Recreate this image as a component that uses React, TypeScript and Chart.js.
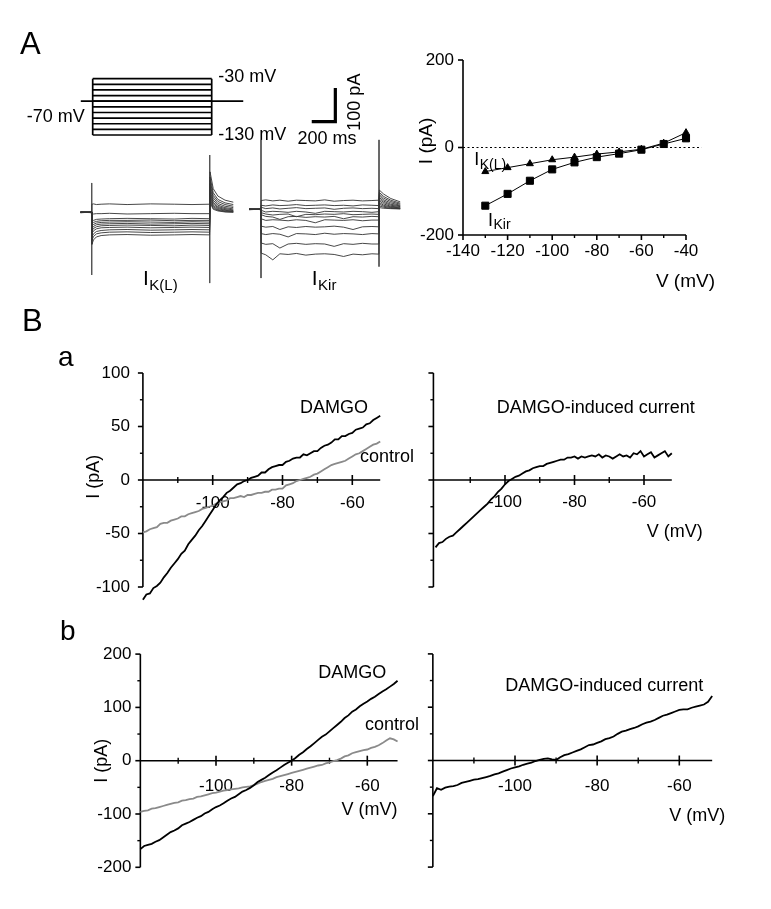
import React, { useEffect, useRef } from "react";
import { Chart, registerables } from "chart.js";
Chart.register(...registerables);

const W = 771;
const H = 909;
const FONT = '"Liberation Sans", Arial, Helvetica, sans-serif';

// ---------------- Panel A: voltage protocol ----------------
const STEP_LEVELS_MV = [-30, -40, -50, -60, -70, -80, -90, -100, -110, -120, -130];
const HOLD_MV = -70;
const STEP_MS = [0, 1000];
const HOLD_MS = [-100, 1265];

// ---------------- Panel A: current traces ----------------
const KL_TIMES = [-95, -1, 2, 15, 40, 80, 150, 300, 500, 700, 850, 999, 1003, 1030, 1070, 1130, 1200];
const KL_TRACES = [
  [1, -1, 24, 25, 23, 24, 25, 23, 25, 24, 23, 24, 120, 70, 48, 36, 30],
  [0, 1, -5, -5, -4, -4, -3, -5, -4, -3, -4, -4, 105, 58, 38, 28, 23],
  [-1, 0, -27, -24, -21, -20, -19, -18, -19, -20, -18, -19, 95, 50, 32, 23, 18],
  [1, 0, -34, -30, -27, -25, -24, -24, -23, -25, -24, -24, 85, 43, 26, 18, 14],
  [0, -1, -41, -36, -32, -30, -29, -28, -29, -30, -28, -29, 75, 36, 21, 14, 10],
  [2, 1, -48, -42, -37, -35, -34, -33, -35, -34, -33, -34, 65, 30, 17, 11, 7],
  [-1, 1, -55, -48, -43, -40, -39, -38, -39, -40, -38, -39, 58, 25, 14, 8, 5],
  [0, 0, -63, -55, -49, -46, -45, -44, -46, -45, -44, -45, 50, 20, 11, 6, 3],
  [1, -1, -73, -64, -57, -54, -52, -51, -53, -52, -51, -52, 42, 16, 8, 4, 2],
  [-1, 0, -83, -72, -64, -61, -59, -58, -60, -59, -58, -59, 35, 12, 6, 2, 1],
  [0, 1, -95, -82, -73, -69, -67, -66, -68, -67, -66, -67, 28, 9, 4, 1, 0],
];
const KL_ARTIFACT_ON_PA = [87, -186];
const KL_ARTIFACT_OFF_PA = [170, -210];

const KIR_TIMES = [-100, -1, 1, 40, 100, 160, 230, 300, 380, 460, 540, 620, 700, 780, 860, 940, 999, 1003, 1040, 1100, 1180];
const KIR_TRACES = [
  [1, 0, 26, 28, 25, 27, 24, 27, 26, 25, 28, 24, 26, 27, 25, 26, 27, 57, 45, 32, 22],
  [0, 1, 12, 10, 13, 11, 12, 14, 11, 12, 13, 11, 12, 10, 13, 12, 11, 50, 38, 27, 18],
  [-1, 0, 6, 2, 4, 1, 3, 5, 2, 3, 4, 0, 3, 4, 2, 3, 2, 45, 33, 23, 15],
  [1, -1, -3, -8, -6, -7, -9, -6, -8, -12, -6, -7, -8, -6, -7, -9, -7, 40, 28, 19, 12],
  [0, 1, -10, -14, -17, -15, -14, -22, -15, -16, -14, -15, -13, -16, -15, -14, -15, 35, 24, 15, 10],
  [2, 0, -16, -21, -23, -30, -22, -21, -24, -22, -23, -21, -28, -22, -23, -21, -22, 30, 20, 12, 8],
  [-1, 1, -28, -33, -31, -32, -34, -31, -33, -40, -31, -32, -33, -31, -34, -32, -32, 25, 16, 9, 6],
  [0, 0, -50, -53, -51, -60, -52, -54, -51, -53, -52, -50, -53, -60, -52, -51, -52, 20, 12, 7, 4],
  [1, -1, -72, -75, -72, -74, -82, -72, -73, -75, -71, -74, -72, -73, -75, -72, -73, 15, 9, 5, 3],
  [-1, 0, -100, -104, -102, -115, -103, -101, -104, -102, -103, -110, -102, -104, -101, -103, -103, 10, 6, 3, 2],
  [0, 1, -130, -135, -150, -132, -134, -131, -136, -133, -132, -134, -140, -133, -135, -132, -133, 5, 3, 2, 1],
];
const KIR_ARTIFACT_ON_PA = [206, -204];
const KIR_ARTIFACT_OFF_PA = [206, -170];
const SCALE_BAR_MS = [430, 630, 630];
const SCALE_BAR_PA = [260, 260, 360];

// ---------------- Panel A: I-V ----------------
const IV_V = [-130, -120, -110, -100, -90, -80, -70, -60, -50, -40];
const IV_KL = [-55, -46, -37, -28, -22, -15, -10, -4, 10, 34];
const IV_KIR = [-133, -106, -76, -50, -34, -22, -14, -5, 8, 21];
const IV_ZERO_V = [-140, -33];
const IV_X_MAJOR = [-140, -120, -100, -80, -60, -40];
const IV_X_MINOR = [-130, -110, -90, -70, -50];
const IV_Y_MAJOR = [200, 0, -200];

// ---------------- Panel B: ramps (1 mV steps from -120 to -52) ----------------
const SWEEP_START_MV = -120;
const SWEEP_STEP_MV = 1;
const A_DAMGO = [
  -112, -107, -106, -101, -99, -96, -91, -87, -82, -78,
  -74, -69, -66, -60, -56, -52, -47, -43, -38, -33,
  -28, -23, -19, -16, -12, -10, -7, -4, -3, -1,
  0, 2, 3, 4, 7, 7, 10, 12, 13, 14,
  14, 17, 18, 20, 21, 21, 24, 23, 25, 27,
  27, 30, 32, 33, 35, 38, 38, 41, 41, 43,
  44, 47, 48, 49, 52, 53, 56, 58, 60,
];
const A_CONTROL = [
  -49, -48, -46, -45, -44, -41, -40, -40, -38, -37,
  -36, -34, -34, -32, -31, -30, -29, -27, -26, -25,
  -24, -22, -21, -20, -19, -17, -17, -16, -15, -16,
  -14, -14, -13, -12, -12, -11, -11, -9, -9, -8,
  -8, -5, -4, -3, -1, 0, 1, 2, 3, 5,
  6, 8, 10, 12, 14, 15, 16, 17, 18, 20,
  22, 24, 25, 27, 29, 31, 33, 34, 36,
];
const A_INDUCED = [
  -63, -59, -58, -55, -53, -52, -49, -46, -43, -40,
  -37, -34, -31, -28, -25, -22, -18, -15, -11, -8,
  -4, -1, 1, 3, 4, 6, 8, 9, 11, 12,
  13, 13, 15, 16, 17, 18, 19, 19, 21, 21,
  22, 20, 22, 21, 22, 23, 22, 24, 21, 23,
  22, 20, 22, 24, 22, 23, 21, 25, 24, 27,
  22, 24, 26, 21, 23, 25, 27, 22, 25,
];
const B_DAMGO = [
  -166, -160, -158, -156, -152, -149, -144, -139, -134, -131,
  -127, -121, -118, -115, -111, -107, -104, -99, -96, -91,
  -87, -84, -80, -75, -71, -68, -63, -58, -55, -51,
  -46, -40, -36, -32, -27, -22, -18, -13, -8, -4,
  0, 5, 11, 16, 22, 27, 33, 39, 45, 49,
  55, 61, 67, 73, 80, 85, 92, 96, 102, 107,
  111, 116, 120, 125, 130, 134, 139, 144, 150,
];
const B_CONTROL = [
  -96, -94, -93, -90, -89, -87, -85, -83, -81, -79,
  -78, -75, -74, -72, -71, -68, -67, -65, -63, -61,
  -60, -58, -56, -55, -54, -53, -52, -50, -49, -48,
  -46, -43, -40, -38, -36, -34, -31, -29, -27, -25,
  -23, -21, -19, -17, -15, -13, -11, -9, -8, -5,
  -3, -1, 1, 4, 8, 10, 14, 16, 18, 20,
  21, 24, 26, 29, 33, 38, 42, 40, 36,
];
const B_INDUCED = [
  -67, -52, -55, -51, -49, -48, -46, -42, -40, -38,
  -36, -35, -33, -31, -29, -26, -24, -21, -18, -15,
  -13, -11, -8, -6, -4, -1, 1, 3, 4, 2,
  1, 6, 10, 12, 15, 18, 21, 25, 29, 30,
  33, 36, 40, 42, 45, 50, 54, 56, 59, 61,
  64, 68, 71, 73, 76, 80, 84, 86, 89, 92,
  95, 96, 96, 99, 101, 103, 105, 110, 121,
];
const B_X_MAJOR = [-100, -80, -60];
const B_X_MINOR = [-110, -90, -70];
const B_X_END = -52;
const A_Y_MAJOR = [100, 50, 0, -50, -100];
const A_Y_MINOR = [75, 25, -25, -75];
const B_Y_MAJOR = [200, 100, 0, -100, -200];
const B_Y_MINOR = [150, 50, -50, -150];

// ---------------- helpers ----------------
type Pt = { x: number; y: number };
const pairs = (xs: number[], ys: number[]): Pt[] => xs.map((x, i) => ({ x, y: ys[i] }));
const sweep = (ys: number[]): Pt[] => ys.map((y, i) => ({ x: SWEEP_START_MV + i * SWEEP_STEP_MV, y }));
const ds = (data: Pt[], color = "#000", width = 1.6, extra: any = {}) => ({
  data,
  showLine: true,
  borderColor: color,
  backgroundColor: color,
  borderWidth: width,
  pointRadius: 0,
  pointHoverRadius: 0,
  fill: false,
  tension: 0,
  clip: false,
  ...extra,
});

function text(
  ctx: CanvasRenderingContext2D,
  s: string,
  x: number,
  y: number,
  size: number,
  align: CanvasTextAlign = "left",
  baseline: CanvasTextBaseline = "middle",
  rot = 0
) {
  ctx.save();
  ctx.font = `${size}px ${FONT}`;
  ctx.fillStyle = "#000";
  ctx.textAlign = align;
  ctx.textBaseline = baseline;
  ctx.translate(x, y);
  if (rot) ctx.rotate(rot);
  ctx.fillText(s, 0, 0);
  ctx.restore();
}
function seg(ctx: CanvasRenderingContext2D, x1: number, y1: number, x2: number, y2: number, w = 1.6) {
  ctx.save();
  ctx.beginPath();
  ctx.lineWidth = w;
  ctx.strokeStyle = "#000";
  ctx.moveTo(x1, y1);
  ctx.lineTo(x2, y2);
  ctx.stroke();
  ctx.restore();
}
function subText(
  ctx: CanvasRenderingContext2D,
  main: string,
  sub: string,
  x: number,
  y: number,
  size: number,
  subSize: number,
  subDy: number
) {
  ctx.save();
  ctx.font = `${size}px ${FONT}`;
  const w = ctx.measureText(main).width;
  ctx.restore();
  text(ctx, main, x, y, size, "left", "alphabetic");
  text(ctx, sub, x + w + 0.5, y + subDy, subSize, "left", "alphabetic");
}

type Fx = (v: number) => number;
type Spec = {
  xMin: number; xMax: number; yMin: number; yMax: number;
  xRef: number; xRefPx: number; xPer: number;
  yRef: number; yRefPx: number; yPer: number;
  datasets: any[];
  before?: (ctx: CanvasRenderingContext2D, X: Fx, Y: Fx) => void;
  after?: (ctx: CanvasRenderingContext2D, X: Fx, Y: Fx) => void;
};

function Layer({ spec }: { spec: Spec }) {
  const ref = useRef<HTMLCanvasElement>(null);
  useEffect(() => {
    const canvas = ref.current!;
    const left = spec.xRefPx + (spec.xMin - spec.xRef) * spec.xPer;
    const right = spec.xRefPx + (spec.xMax - spec.xRef) * spec.xPer;
    const top = spec.yRefPx - (spec.yMax - spec.yRef) * spec.yPer;
    const bottom = spec.yRefPx - (spec.yMin - spec.yRef) * spec.yPer;
    const hook = (which: "before" | "after") => (c: any) => {
      const fn = spec[which];
      if (!fn) return;
      const X = (v: number) => c.scales.x.getPixelForValue(v);
      const Y = (v: number) => c.scales.y.getPixelForValue(v);
      c.ctx.save();
      fn(c.ctx, X, Y);
      c.ctx.restore();
    };
    const chart = new Chart(canvas, {
      type: "scatter",
      data: { datasets: spec.datasets },
      options: {
        responsive: false,
        maintainAspectRatio: false,
        animation: false,
        devicePixelRatio: 1,
        events: [],
        layout: { padding: { left, top, right: W - right, bottom: H - bottom } },
        scales: {
          x: { type: "linear", min: spec.xMin, max: spec.xMax, display: false },
          y: { type: "linear", min: spec.yMin, max: spec.yMax, display: false },
        },
        plugins: { legend: { display: false }, tooltip: { enabled: false }, title: { display: false } },
      },
      plugins: [
        { id: "figBefore", beforeDatasetsDraw: hook("before") },
        { id: "figAfter", afterDatasetsDraw: hook("after") },
      ],
    } as any);
    return () => chart.destroy();
  }, []);
  return (
    <canvas
      ref={ref}
      width={W}
      height={H}
      style={{ position: "absolute", left: 0, top: 0, width: W, height: H }}
    />
  );
}

// ---------------- B panel axes ----------------
function bAxes(
  ctx: CanvasRenderingContext2D, X: Fx, Y: Fx,
  axisV: number, yMajor: number[], yMinor: number[], yLabelGap: number | null, xLabelDy: number
) {
  const ax = X(axisV);
  const y0 = Y(0);
  seg(ctx, ax, Y(yMajor[0]), ax, Y(yMajor[yMajor.length - 1]), 1.6);
  yMajor.forEach((v) => seg(ctx, ax - 5, Y(v), ax, Y(v), 1.6));
  yMinor.forEach((v) => seg(ctx, ax - 3, Y(v), ax, Y(v), 1.4));
  if (yLabelGap !== null) yMajor.forEach((v) => text(ctx, String(v), ax - yLabelGap, Y(v), 17, "right"));
  seg(ctx, ax, y0, X(B_X_END), y0, 1.6);
  B_X_MAJOR.forEach((v) => seg(ctx, X(v), y0 - 5, X(v), y0 + 5, 1.6));
  B_X_MINOR.forEach((v) => seg(ctx, X(v), y0 - 3, X(v), y0 + 3, 1.4));
  B_X_MAJOR.forEach((v) => text(ctx, String(v), X(v), y0 + xLabelDy, 17, "center"));
}

const GRAY = "#8a8a8a";
const TRACE = "#333";

const specs: Spec[] = [
  // protocol
  {
    xMin: -150, xMax: 1300, yMin: -135, yMax: -25,
    xRef: 0, xRefPx: 92.7, xPer: 0.119, yRef: -30, yRefPx: 78.7, yPer: 0.563,
    datasets: [
      ...STEP_LEVELS_MV.map((l) => ds(pairs(STEP_MS, [l, l]), "#000", 1.7)),
      ds(pairs([STEP_MS[0], STEP_MS[0]], [STEP_LEVELS_MV[0], STEP_LEVELS_MV[10]]), "#000", 1.7),
      ds(pairs([STEP_MS[1], STEP_MS[1]], [STEP_LEVELS_MV[0], STEP_LEVELS_MV[10]]), "#000", 1.7),
      ds(pairs(HOLD_MS, [HOLD_MV, HOLD_MV]), "#000", 1.7),
    ],
    after: (ctx, X, Y) => {
      text(ctx, "-30 mV", X(1000) + 6.5, Y(-30) - 2, 18);
      text(ctx, "-130 mV", X(1000) + 6.5, Y(-130), 18);
      text(ctx, "-70 mV", X(-100) + 4, Y(-70) + 16, 18, "right");
      text(ctx, "A", 20, 53.5, 31, "left", "alphabetic");
    },
  },
  // IK(L) traces
  {
    xMin: -150, xMax: 1300, yMin: -230, yMax: 200,
    xRef: 0, xRefPx: 91.7, xPer: 0.118, yRef: 0, yRefPx: 212.3, yPer: 0.337,
    datasets: [
      ...KL_TRACES.map((t) => ds(pairs(KL_TIMES, t), TRACE, 0.9)),
      ds(pairs([0, 0], KL_ARTIFACT_ON_PA), "#555", 1),
      ds(pairs([1000, 1000], KL_ARTIFACT_OFF_PA), "#555", 1),
    ],
    after: (ctx, X, Y) => {
      subText(ctx, "I", "K(L)", X(435), Y(-215), 21, 15, 5);
    },
  },
  // IKir traces + scale bar
  {
    xMin: -150, xMax: 1300, yMin: -230, yMax: 380,
    xRef: 0, xRefPx: 261, xPer: 0.118, yRef: 0, yRefPx: 209.3, yPer: 0.337,
    datasets: [
      ...KIR_TRACES.map((t) => ds(pairs(KIR_TIMES, t), TRACE, 0.9)),
      ds(pairs([0, 0], KIR_ARTIFACT_ON_PA), "#555", 1),
      ds(pairs([1000, 1000], KIR_ARTIFACT_OFF_PA), "#555", 1),
      ds(pairs(SCALE_BAR_MS, SCALE_BAR_PA), "#000", 3.2, { borderJoinStyle: "miter", borderCapStyle: "butt" }),
    ],
    after: (ctx, X, Y) => {
      text(ctx, "100 pA", X(630) + 20, Y(318), 18, "center", "middle", -Math.PI / 2);
      text(ctx, "200 ms", X(560), Y(260) + 17, 18, "center");
      subText(ctx, "I", "Kir", X(430), Y(-225), 21, 15, 5);
    },
  },
  // A I-V
  {
    xMin: -146, xMax: -32, yMin: -210, yMax: 210,
    xRef: -140, xRefPx: 463, xPer: 2.23, yRef: 0, yRefPx: 147.5, yPer: 0.4375,
    datasets: [
      ds(pairs(IV_V, IV_KL), "#000", 1, {
        pointStyle: "triangle", pointRadius: 4, pointBackgroundColor: "#000", pointBorderColor: "#000", pointBorderWidth: 1,
      }),
      ds(pairs(IV_V, IV_KIR), "#000", 1, {
        pointStyle: "rect", pointRadius: 5, pointBackgroundColor: "#000", pointBorderColor: "#000", pointBorderWidth: 1,
      }),
      ds(pairs(IV_ZERO_V, [0, 0]), "#000", 1.2, { borderDash: [2, 2.5] }),
    ],
    before: (ctx, X, Y) => {
      const ax = X(-140);
      const ay = Y(-200);
      seg(ctx, ax, Y(200), ax, ay, 1.6);
      seg(ctx, ax, ay, X(-40), ay, 1.6);
      IV_Y_MAJOR.forEach((v) => {
        seg(ctx, ax - 5, Y(v), ax, Y(v), 1.6);
        text(ctx, String(v), ax - 9, Y(v), 17, "right");
      });
      IV_X_MAJOR.forEach((v) => {
        seg(ctx, X(v), ay, X(v), ay + 5, 1.6);
        text(ctx, String(v), X(v), ay + 16, 17, "center");
      });
      IV_X_MINOR.forEach((v) => seg(ctx, X(v), ay, X(v), ay + 3, 1.4));
      text(ctx, "I (pA)", ax - 36, Y(15), 19, "center", "middle", -Math.PI / 2);
      text(ctx, "V (mV)", X(-40) + 29, ay + 47, 19, "right");
      subText(ctx, "I", "K(L)", X(-135), Y(-40), 18, 14, 4);
      subText(ctx, "I", "Kir", X(-128.8), Y(-180), 18, 14, 3);
    },
  },
  // B a left
  {
    xMin: -121, xMax: -51, yMin: -118, yMax: 106,
    xRef: -100, xRefPx: 212.7, xPer: 3.49, yRef: 0, yRefPx: 480, yPer: 1.07,
    datasets: [ds(sweep(A_DAMGO), "#000", 1.8), ds(sweep(A_CONTROL), GRAY, 1.8)],
    before: (ctx, X, Y) => {
      bAxes(ctx, X, Y, -120, A_Y_MAJOR, A_Y_MINOR, 13, 23);
      text(ctx, "I (pA)", X(-120) - 49, Y(3), 18, "center", "middle", -Math.PI / 2);
      text(ctx, "DAMGO", X(-75), Y(67), 18);
      text(ctx, "control", X(-57.8), Y(21), 18);
      text(ctx, "B", 22, 331, 31, "left", "alphabetic");
      text(ctx, "a", 58, 366, 28, "left", "alphabetic");
    },
  },
  // B a right
  {
    xMin: -121, xMax: -51, yMin: -118, yMax: 106,
    xRef: -100, xRefPx: 505, xPer: 3.475, yRef: 0, yRefPx: 480, yPer: 1.07,
    datasets: [ds(sweep(A_INDUCED), "#000", 1.8)],
    before: (ctx, X, Y) => {
      bAxes(ctx, X, Y, -120.6, A_Y_MAJOR, A_Y_MINOR, null, 22);
      text(ctx, "V (mV)", X(B_X_END) + 31, Y(0) + 52, 18, "right");
      text(ctx, "DAMGO-induced current", X(-102.4), Y(67), 18);
    },
  },
  // B b left
  {
    xMin: -121, xMax: -51, yMin: -215, yMax: 212,
    xRef: -100, xRefPx: 216, xPer: 3.7825, yRef: 0, yRefPx: 760.7, yPer: 0.533,
    datasets: [ds(sweep(B_DAMGO), "#000", 1.8), ds(sweep(B_CONTROL), GRAY, 1.8)],
    before: (ctx, X, Y) => {
      bAxes(ctx, X, Y, -120, B_Y_MAJOR, B_Y_MINOR, 9, 26);
      text(ctx, "I (pA)", X(-120) - 38, Y(0), 18, "center", "middle", -Math.PI / 2);
      text(ctx, "V (mV)", X(B_X_END), Y(0) + 49, 18, "right");
      text(ctx, "DAMGO", X(-73), Y(164), 18);
      text(ctx, "control", X(-60.6), Y(67), 18);
      text(ctx, "b", 60, 640, 28, "left", "alphabetic");
    },
  },
  // B b right
  {
    xMin: -121, xMax: -51, yMin: -215, yMax: 212,
    xRef: -100, xRefPx: 515, xPer: 4.1075, yRef: 0, yRefPx: 760.5, yPer: 0.533,
    datasets: [ds(sweep(B_INDUCED), "#000", 1.8)],
    before: (ctx, X, Y) => {
      bAxes(ctx, X, Y, -120, B_Y_MAJOR, B_Y_MINOR, null, 26);
      text(ctx, "V (mV)", X(B_X_END) + 13, Y(0) + 56, 18, "right");
      text(ctx, "DAMGO-induced current", X(-102.4), Y(140), 18);
    },
  },
];

export default function App() {
  return (
    <div style={{ position: "absolute", left: 0, top: 0, width: W, height: H, background: "#fff", overflow: "hidden" }}>
      {specs.map((s, i) => (
        <Layer key={i} spec={s} />
      ))}
    </div>
  );
}
